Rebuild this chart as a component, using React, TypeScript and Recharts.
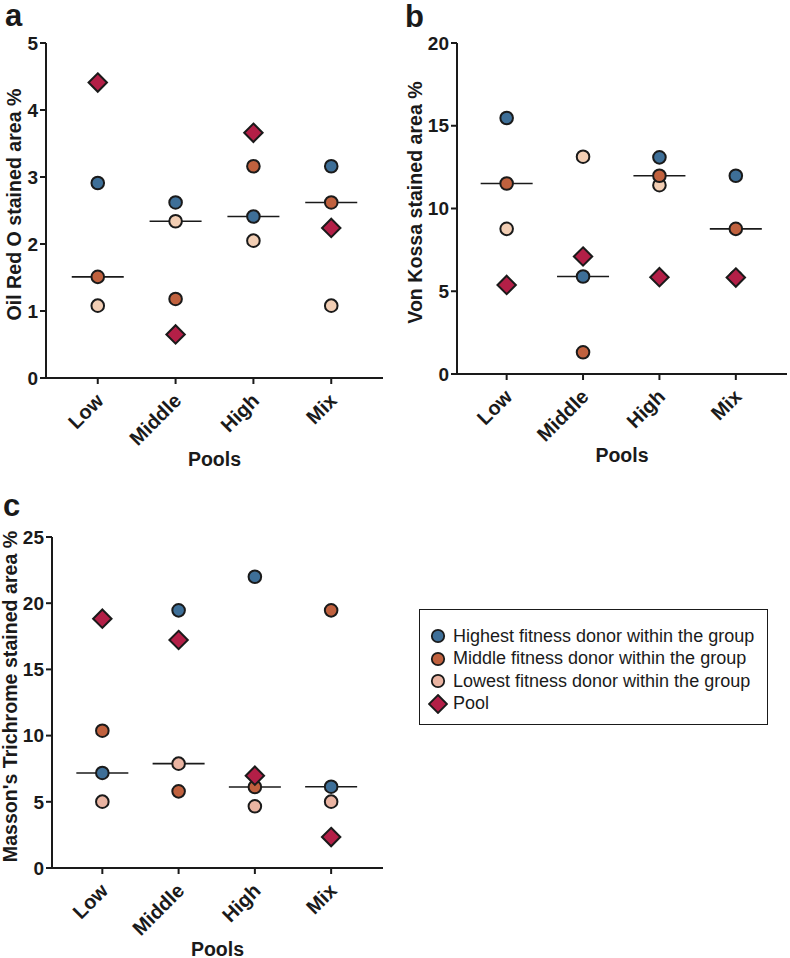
import React from 'react';
import { ScatterChart, Scatter, XAxis, YAxis, Legend, Label } from 'recharts';

// Pool categories along the x axis
const CATEGORIES = ['Low', 'Middle', 'High', 'Mix'];

const SERIES_NAMES = [
  'Highest fitness donor within the group',
  'Middle fitness donor within the group',
  'Lowest fitness donor within the group',
  'Pool',
];

// a — Oil Red O stained area %
const oilHighest = [2.91, 2.62, 2.41, 3.16];
const oilMiddle = [1.51, 1.18, 3.16, 2.62];
const oilLowest = [1.08, 2.34, 2.05, 1.08];
const oilPool = [4.41, 0.65, 3.66, 2.24];
const oilTicks = [0, 1, 2, 3, 4, 5];

// b — Von Kossa stained area %
const vkHighest = [15.47, 5.89, 13.09, 11.98];
const vkMiddle = [11.51, 1.31, 11.98, 8.77];
const vkLowest = [8.77, 13.13, 11.41, 5.85];
const vkPool = [5.38, 7.1, 5.85, 5.83];
const vkTicks = [0, 5, 10, 15, 20];

// c — Masson's Trichrome stained area %
const mtHighest = [7.18, 19.46, 22.0, 6.14];
const mtMiddle = [10.37, 5.79, 6.12, 19.46];
const mtLowest = [5.01, 7.88, 4.66, 5.01];
const mtPool = [18.83, 17.22, 6.97, 2.34];
const mtTicks = [0, 5, 10, 15, 20, 25];

const FONT = '"Liberation Sans", Arial, Helvetica, sans-serif';
const INK = '#1a1a1a';
const BLUE = '#3e6f98';
const ORANGE = '#c0613e';
const PEACH = '#f2ceb4';
const ROSE = '#eab4a2';
const CRIMSON = '#b31f47';

const toPoints = (values: number[]) => values.map((y, i) => ({ x: i + 1, y }));

const medianOf = (vals: number[]) => [...vals].sort((p, q) => p - q)[Math.floor(vals.length / 2)];

const mediansOf = (a: number[], b: number[], c: number[]) =>
  CATEGORIES.map((_, i) => ({ x: i + 1, y: medianOf([a[i], b[i], c[i]]) }));

const DotShape = (fill: string) => (p: any) => (
  <circle cx={p.cx} cy={p.cy} r={6.3} fill={fill} stroke={INK} strokeWidth={2} />
);

const DiamondShape = (fill: string) => (p: any) => {
  const h = 9.2;
  return (
    <polygon
      points={`${p.cx},${p.cy - h} ${p.cx + h},${p.cy} ${p.cx},${p.cy + h} ${p.cx - h},${p.cy}`}
      fill={fill}
      stroke={INK}
      strokeWidth={2}
      strokeLinejoin="miter"
    />
  );
};

const MedianShape = (p: any) => (
  <line x1={p.cx - 26} x2={p.cx + 26} y1={p.cy} y2={p.cy} stroke={INK} strokeWidth={1.6} />
);

const CategoryTick = (props: any) => {
  const { x, y, payload } = props;
  const tx = x + 2;
  const ty = y + 11;
  return (
    <text
      x={tx}
      y={ty}
      transform={`rotate(-45, ${tx}, ${ty})`}
      textAnchor="end"
      dominantBaseline="central"
      fontSize={20}
      fontWeight={700}
      fontFamily={FONT}
      fill={INK}
    >
      {CATEGORIES[payload.value - 1]}
    </text>
  );
};

const yTitle = (text: string, gap: number) => (props: any) => {
  const vb = props.viewBox;
  const cx = vb.x + vb.width - gap;
  const cy = vb.y + vb.height / 2 - 6;
  return (
    <text
      x={cx}
      y={cy}
      transform={`rotate(-90, ${cx}, ${cy})`}
      textAnchor="middle"
      dominantBaseline="central"
      fontSize={19.6}
      fontWeight={700}
      fontFamily={FONT}
      fill={INK}
    >
      {text}
    </text>
  );
};

const xTitle = (props: any) => {
  const vb = props.viewBox;
  return (
    <text
      x={vb.x + vb.width / 2}
      y={vb.y + 88}
      textAnchor="middle"
      fontSize={19.5}
      fontWeight={700}
      fontFamily={FONT}
      fill={INK}
    >
      Pools
    </text>
  );
};

const LegendIcon = ({ type, color }: { type: string; color: string }) => (
  <svg width={20} height={20} style={{ display: 'block', flex: '0 0 auto' }}>
    {type === 'diamond' ? (
      <polygon points="10,1 19,10 10,19 1,10" fill={color} stroke={INK} strokeWidth={1.8} />
    ) : (
      <circle cx={10} cy={10} r={6.2} fill={color} stroke={INK} strokeWidth={1.8} />
    )}
  </svg>
);

const LegendBox = (props: any) => {
  const items = [...(props.payload ?? [])]
    .filter((it: any) => SERIES_NAMES.includes(it.value))
    .sort((p: any, q: any) => SERIES_NAMES.indexOf(p.value) - SERIES_NAMES.indexOf(q.value));
  return (
    <div
      style={{
        width: 349,
        height: 116,
        boxSizing: 'border-box',
        border: `1.5px solid ${INK}`,
        paddingTop: 15,
        fontFamily: FONT,
        fontSize: 18,
        color: INK,
        background: '#fff',
      }}
    >
      {items.map((it: any) => (
        <div key={it.value} style={{ display: 'flex', alignItems: 'center', height: 22.5, paddingLeft: 8 }}>
          <LegendIcon type={it.type} color={it.color} />
          <span style={{ marginLeft: 5, whiteSpace: 'nowrap' }}>{it.value}</span>
        </div>
      ))}
    </div>
  );
};

type PanelProps = {
  left: number;
  top: number;
  width: number;
  height: number;
  margin: { top: number; right: number; bottom: number; left: number };
  yAxisWidth: number;
  xAxisHeight: number;
  xDomain: [number, number];
  yTicks: number[];
  yLabel: string;
  yLabelGap: number;
  lowestFill: string;
  highest: number[];
  middle: number[];
  lowest: number[];
  pool: number[];
  withLegend?: boolean;
};

const Panel = (p: PanelProps) => {
  const axisLine = { stroke: INK, strokeWidth: 2 };
  return (
    <div style={{ position: 'absolute', left: p.left, top: p.top }}>
      <ScatterChart width={p.width} height={p.height} margin={p.margin}>
        <XAxis
          type="number"
          dataKey="x"
          domain={p.xDomain}
          ticks={[1, 2, 3, 4]}
          allowDataOverflow
          height={p.xAxisHeight}
          axisLine={axisLine}
          tickLine={axisLine}
          tickSize={6}
          tickMargin={2}
          tick={<CategoryTick />}
          interval={0}
        >
          <Label content={xTitle} />
        </XAxis>
        <YAxis
          type="number"
          dataKey="y"
          domain={[p.yTicks[0], p.yTicks[p.yTicks.length - 1]]}
          ticks={p.yTicks}
          allowDataOverflow
          width={p.yAxisWidth}
          axisLine={axisLine}
          tickLine={axisLine}
          tickSize={6}
          tickMargin={2}
          interval={0}
          tick={{ fontSize: 19, fontWeight: 700, fill: INK, fontFamily: FONT }}
        >
          <Label content={yTitle(p.yLabel, p.yLabelGap)} />
        </YAxis>
        <Scatter
          name="median"
          data={mediansOf(p.highest, p.middle, p.lowest)}
          shape={MedianShape}
          legendType="none"
          isAnimationActive={false}
        />
        <Scatter
          name={SERIES_NAMES[2]}
          data={toPoints(p.lowest)}
          fill={p.lowestFill}
          shape={DotShape(p.lowestFill)}
          legendType="circle"
          isAnimationActive={false}
        />
        <Scatter
          name={SERIES_NAMES[1]}
          data={toPoints(p.middle)}
          fill={ORANGE}
          shape={DotShape(ORANGE)}
          legendType="circle"
          isAnimationActive={false}
        />
        <Scatter
          name={SERIES_NAMES[0]}
          data={toPoints(p.highest)}
          fill={BLUE}
          shape={DotShape(BLUE)}
          legendType="circle"
          isAnimationActive={false}
        />
        <Scatter
          name={SERIES_NAMES[3]}
          data={toPoints(p.pool)}
          fill={CRIMSON}
          shape={DiamondShape(CRIMSON)}
          legendType="diamond"
          isAnimationActive={false}
        />
        {p.withLegend && (
          <Legend
            layout="vertical"
            align="center"
            verticalAlign="middle"
            content={<LegendBox />}
            wrapperStyle={{ left: 419, top: 139, width: 349, height: 116 }}
          />
        )}
      </ScatterChart>
    </div>
  );
};

const PanelLetters = () => (
  <svg
    width={790}
    height={958}
    style={{ position: 'absolute', left: 0, top: 0, pointerEvents: 'none' }}
  >
    <g fontFamily={FONT} fontWeight={700} fontSize={31} fill={INK}>
      <text x={5} y={26}>a</text>
      <text x={405} y={27}>b</text>
      <text x={3} y={516}>c</text>
    </g>
  </svg>
);

export default function App() {
  return (
    <div
      style={{
        position: 'absolute',
        left: 0,
        top: 0,
        width: 790,
        height: 958,
        background: '#fff',
        overflow: 'hidden',
      }}
    >
      <Panel
        left={0}
        top={0}
        width={395}
        height={475}
        margin={{ top: 43, right: 12, bottom: 5, left: 0 }}
        yAxisWidth={46}
        xAxisHeight={92}
        xDomain={[0.335, 4.665]}
        yTicks={oilTicks}
        yLabel="Oil Red O stained area %"
        yLabelGap={32}
        lowestFill={PEACH}
        highest={oilHighest}
        middle={oilMiddle}
        lowest={oilLowest}
        pool={oilPool}
      />
      <Panel
        left={395}
        top={0}
        width={395}
        height={475}
        margin={{ top: 43, right: 3, bottom: 9, left: 0 }}
        yAxisWidth={62}
        xAxisHeight={92}
        xDomain={[0.35, 4.67]}
        yTicks={vkTicks}
        yLabel="Von Kossa stained area %"
        yLabelGap={42}
        lowestFill={PEACH}
        highest={vkHighest}
        middle={vkMiddle}
        lowest={vkLowest}
        pool={vkPool}
      />
      <Panel
        left={0}
        top={470}
        width={790}
        height={488}
        margin={{ top: 67, right: 407, bottom: 2, left: 0 }}
        yAxisWidth={52}
        xAxisHeight={88}
        xDomain={[0.34, 4.68]}
        yTicks={mtTicks}
        yLabel="Masson's Trichrome stained area %"
        yLabelGap={42}
        lowestFill={ROSE}
        highest={mtHighest}
        middle={mtMiddle}
        lowest={mtLowest}
        pool={mtPool}
        withLegend
      />
      <PanelLetters />
    </div>
  );
}
